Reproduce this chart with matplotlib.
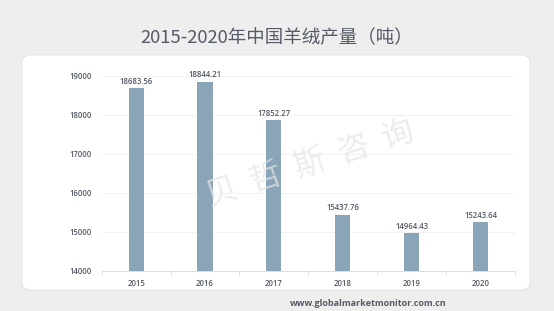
import matplotlib.pyplot as plt
from matplotlib.patches import FancyBboxPatch

plt.rcParams['font.family'] = ['Noto Sans CJK SC', 'DejaVu Sans']

# data
years = ['2015', '2016', '2017', '2018', '2019', '2020']
output = [18683.56, 18844.21, 17852.27, 15437.76, 14964.43, 15243.64]
yticks = [14000, 15000, 16000, 17000, 18000, 19000]

num_font = ['Open Sans', 'DejaVu Sans']

fig = plt.figure(figsize=(5.54, 3.11), dpi=100)
fig.patch.set_facecolor('#eeeeee')

# white card behind the chart
card = FancyBboxPatch((22 / 554, 1 - 290 / 311), 508 / 554, 235 / 311,
                      boxstyle='round,pad=0,rounding_size=0.02',
                      transform=fig.transFigure, facecolor='white',
                      edgecolor='#e2e2e2', linewidth=0.6, zorder=-5)
fig.patches.append(card)

fig.text(0.5, 1 - 38 / 311, '2015-2020年中国羊绒产量（吨）', ha='center', va='center',
         fontsize=13.3, color='#555a66')

ax = fig.add_axes([0.1836, 0.1296, 0.746, 0.627])
ax.set_zorder(2)
ax.set_facecolor('none')
x = range(len(years))
ax.bar(x, output, width=0.22, color='#89a5b7', zorder=3)
for i, v in enumerate(output):
    ax.text(i, v + 60, '%.2f' % v, ha='center', va='bottom', fontsize=5.6,
            color='#555a66', fontweight='semibold', family=num_font, zorder=4)

ax.set_xlim(-0.5, len(years) - 0.5)
ax.set_ylim(14000, 19000)
ax.set_yticks(yticks)
ax.set_yticklabels([str(t) for t in yticks], fontsize=5.6, color='#555a66',
                   family=num_font, fontweight='semibold')
ax.set_xticks(list(x))
ax.set_xticklabels(years, fontsize=5.6, color='#555a66', family=num_font,
                   fontweight='semibold')
ax.set_xticks([i + 0.5 for i in range(-1, len(years))], minor=True)
ax.tick_params(axis='x', which='major', length=0, pad=6)
ax.tick_params(axis='x', which='minor', length=3, color='#d8d8d8')
ax.tick_params(axis='y', length=0, pad=7)
ax.grid(axis='y', color='#f0f0f0', linewidth=0.6, zorder=0)
for s in ['top', 'right', 'left']:
    ax.spines[s].set_visible(False)
ax.spines['bottom'].set_color('#d8d8d8')
ax.spines['bottom'].set_linewidth(0.6)

# watermark
fig.text(0.56, 0.47, '贝  哲  斯  咨  询', ha='center', va='center', fontsize=23,
         rotation=18, color='#e4e4e4', alpha=0.7, zorder=10)

fig.text(0.665, 1 - 303 / 311, 'www.globalmarketmonitor.com.cn', ha='center',
         va='center', fontsize=6.5, color='#555a66', fontweight='bold',
         family=num_font)

fig.savefig('out.png', dpi=100, facecolor=fig.get_facecolor())
